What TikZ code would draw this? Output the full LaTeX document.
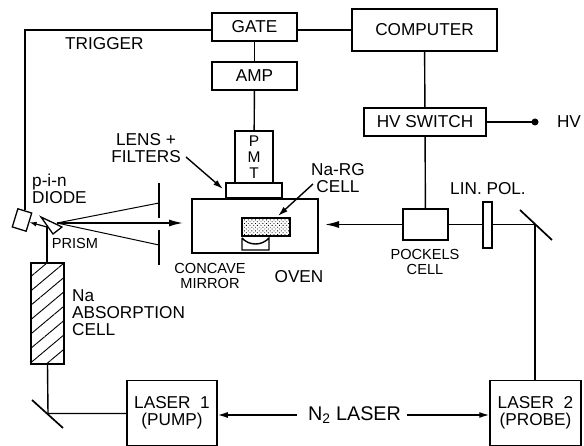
\documentclass[tikz,border=0pt]{standalone}
\usepackage{fontspec}
\setmainfont{Liberation Sans}
\usepackage{tikz}
\usetikzlibrary{arrows.meta,patterns.meta}

\begin{document}
\begin{tikzpicture}[
  x=1pt, y=-1pt,
  font=\fontsize{17.2}{17}\selectfont,
  unit/.style  ={draw, line width=1.5pt, align=center, inner sep=0pt, fill=white},
  lbl/.style   ={align=center, inner sep=0pt},
  lblleft/.style={lbl, align=left, anchor=west},
  small/.style ={lbl, font=\fontsize{14.6}{15}\selectfont},
  wire/.style  ={line width=1.4pt},
  thin ray/.style={line width=1pt},
  stopbar/.style={line width=2.6pt},
  beam/.style  ={line width=1.5pt, -{Latex[length=14pt,width=7pt]}},
  ar/.style    ={line width=1.4pt, -{Latex[length=10pt,width=6pt]}},
]
\useasboundingbox (0,0) rectangle (584,446);

% ---------------- electronics along the top ------------------------------
\node[unit, minimum width=85pt,  minimum height=28pt] (gate)     at (254.5, 27) {GATE};
\node[unit, minimum width=85pt,  minimum height=28pt] (amp)      at (254.5, 76) {AMP};
\node[unit, minimum width=145pt, minimum height=42pt] (computer) at (424.5, 30) {COMPUTER};
\node[unit, minimum width=122pt, minimum height=28pt] (hvswitch) at (425, 122)  {HV SWITCH};
\node[lbl] (hvlabel) at (569, 122) {HV};
\coordinate (hvdot) at (535, 122);

\draw[wire] (computer.west) -- (gate.east |- computer.west);
\draw[wire] (gate) -- (amp);
\draw[wire] (computer) -- (hvswitch);
\draw[wire] (hvswitch.east) -- (hvdot);
\fill (hvdot) circle (3.5pt);

% ---------------- oven, detector and sample cell --------------------------
\node[unit, minimum width=126pt, minimum height=54pt] (oven) at (255, 226) {};
\node[unit, minimum width=38pt, minimum height=52pt, font=\fontsize{15.5}{16}\selectfont]
  (pmt) at (254, 157) {P\\M\\T};
\node[unit, minimum width=56pt, minimum height=15pt] (lens) at (254, 190.5) {};
\node[unit, minimum width=48pt, minimum height=18pt,
      pattern={Dots[radius=0.6pt,distance=2.6pt,angle=45]}, pattern color=black]
  (nacell) at (266, 227) {};
\draw[wire] (amp) -- (pmt);

\coordinate (mirl) at (242, 238);
\coordinate (mirr) at (269, 238);
\draw[line width=1.4pt] (mirl) -- (242, 250) -- (269, 250) -- (mirr)
  .. controls (262, 246) and (249, 246) .. (mirl);

\node[lbl] (lenslabel) at (146, 148) {LENS +\\FILTERS};
\coordinate (lensfrom) at (186, 157);
\coordinate (lensto)   at (223, 189);
\draw[ar] (lensfrom) -- (lensto);

\node[lbl] (nalabel) at (338, 178) {Na-RG\\CELL};
\coordinate (nafrom) at (313, 184);
\coordinate (nato)   at (278, 216);
\draw[ar] (nafrom) -- (nato);

\node[small] (concave) at (210, 275.5) {CONCAVE\\MIRROR};
\node[lbl]   (ovenlabel) at (299, 277) {OVEN};

% ---------------- probe path, right side ----------------------------------
\node[unit, minimum width=45pt, minimum height=31pt] (pockels) at (425.5, 224.5) {};
\node[small] (pockelslabel) at (425, 261.5) {POCKELS\\CELL};
\node[lbl]   (linpollabel)  at (488, 189) {LIN. POL.};
\node[unit, minimum width=91pt, minimum height=65pt] (laser2) at (535.5, 413)
  {LASER\ \ 2\\(PROBE)};

\coordinate (mirror2) at (535, 224.5);
\coordinate (ovenin)  at (325, 224.5);
\draw[wire] (hvswitch) -- (pockels);
\draw[wire] (laser2.north -| mirror2) -- (mirror2) -- (pockels.east);
\draw[line width=1.7pt] (520, 210) -- (552, 240);
\node[unit, line width=1.2pt, minimum width=9pt, minimum height=46pt] (linpol) at (487.5, 225) {};
\draw[beam] (pockels.west) -- (ovenin);

% ---------------- pump path, left side ------------------------------------
\node[unit, minimum width=90pt, minimum height=65pt] (laser1) at (172, 413)
  {LASER\ \ 1\\(PUMP)};
\node[unit, minimum width=33pt, minimum height=101pt,
      pattern={Lines[angle=40,distance=11pt,line width=0.9pt]}] (absorb) at (47.5, 313.5) {};
\node[lblleft] (absorblabel) at (72, 313) {Na\\ABSORPTION\\CELL};

\coordinate (mirror1) at (48, 413.5);
\draw[wire] (absorb.south) -- (mirror1) -- (laser1.west |- mirror1);
\draw[line width=1.7pt] (32, 400) -- (63, 428);

\coordinate (prisma) at (41, 217);
\coordinate (prismb) at (62, 227);
\coordinate (prismc) at (53, 234);
\coordinate (prismin) at (47, 227);
\coordinate (focus)  at (57, 223);
\draw[line width=1.3pt, fill=white] (prisma) -- (prismb) -- (prismc) -- cycle;
\node[small] (prismlabel) at (75, 243) {PRISM};

\node[unit, line width=1.3pt, rotate=-17, minimum width=14.5pt, minimum height=19pt] (diode) at (22, 220) {};
\node[lblleft] (diodelabel) at (32, 189) {p-i-n\\DIODE};
\node[lblleft] (trigger) at (65, 44) {TRIGGER};

\draw[wire] (gate.west |- computer.west) -| (diode.north);
\draw[wire] (absorb.north -| prismin) -- (prismin);
\draw[line width=1.2pt, -{Latex[length=7pt,width=5pt]}] (prismin) -- (diode.east);

% ---------------- beam stops and fluorescence rays ------------------------
\coordinate (stopa) at (159, 203);
\coordinate (stopb) at (159, 245);
\coordinate (ovenout) at (183, 223);
\draw[stopbar] (159, 183) -- (159, 218);
\draw[stopbar] (159, 230) -- (159, 265);
\draw[thin ray] (focus) -- (stopa);
\draw[thin ray] (focus) -- (stopb);
\draw[beam] (focus) -- (ovenout);

% ---------------- nitrogen laser ------------------------------------------
\node[lbl, font=\fontsize{19.8}{19}\selectfont] (ntwo) at (354.5, 415) {N\textsubscript{2} LASER};
\draw[ar] (ntwo.west) ++(-11, 0) -- (laser1.east |- ntwo.west);
\draw[ar] (ntwo.east) ++(6, 0) -- (laser2.west |- ntwo.east);

\end{tikzpicture}
\end{document}
